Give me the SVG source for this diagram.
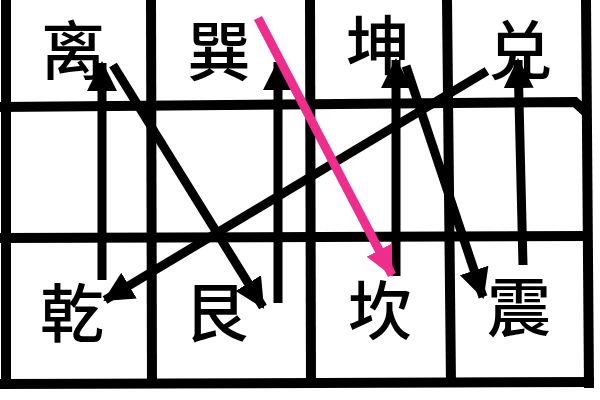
<svg xmlns="http://www.w3.org/2000/svg" width="600" height="400" viewBox="0 0 600 400">
<style>
.grid{stroke:#000;stroke-width:10;fill:none;stroke-linecap:butt}
.conn{stroke:#000;stroke-width:9;fill:none}
.pink{stroke:#EE2D8C;stroke-width:9;fill:none}
.lbl{font-family:"Noto Sans CJK SC","Noto Sans CJK JP",sans-serif;font-size:64px;font-weight:500;fill:#000;text-anchor:middle;dominant-baseline:central}
</style>
<defs>
<marker id="ah" markerUnits="userSpaceOnUse" markerWidth="32" markerHeight="32" viewBox="0 0 32 32" refX="28" refY="16" orient="auto">
<path d="M0,1 L30,16 L0,31 Z" fill="#000"/>
</marker>
<marker id="ahp" markerUnits="userSpaceOnUse" markerWidth="32" markerHeight="32" viewBox="0 0 32 32" refX="28" refY="16" orient="auto">
<path d="M0,2 L30,16 L0,30 Z" fill="#EE2D8C"/>
</marker>
</defs>
<rect width="600" height="400" fill="#fff"/>
<g id="grid">
<line class="grid" x1="6" y1="0" x2="6" y2="388"/>
<line class="grid" x1="151" y1="0" x2="152" y2="388"/>
<line class="grid" x1="310" y1="0" x2="311" y2="384"/>
<line class="grid" x1="447" y1="0" x2="451" y2="384"/>
<line class="grid" x1="586" y1="0" x2="589" y2="388"/>
<polyline class="grid" points="0,107 575,102 586,112"/>
<line class="grid" x1="0" y1="238" x2="590" y2="236"/>
<line class="grid" x1="0" y1="384" x2="594" y2="382"/>
</g>
<g id="li"><text class="lbl" x="73" y="46">离</text></g>
<g id="xun"><text class="lbl" x="219" y="47">巽</text></g>
<g id="kun"><text class="lbl" x="378" y="41">坤</text></g>
<g id="dui"><text class="lbl" x="520" y="46">兑</text></g>
<g id="qian"><text class="lbl" x="72" y="309">乾</text></g>
<g id="gen"><text class="lbl" x="216" y="308">艮</text></g>
<g id="kan"><text class="lbl" x="380" y="306">坎</text></g>
<g id="zhen"><text class="lbl" x="519" y="303">震</text></g>
<g id="connectors">
<line class="conn" x1="102" y1="280" x2="102" y2="63" marker-end="url(#ah)"/>
<line class="conn" x1="113" y1="65" x2="263" y2="307" marker-end="url(#ah)"/>
<line class="conn" x1="278" y1="303" x2="278" y2="62" marker-end="url(#ah)"/>
<line class="conn" x1="487" y1="71" x2="105" y2="300" marker-end="url(#ah)"/>
<line class="conn" x1="396" y1="276" x2="396" y2="60" marker-end="url(#ah)"/>
<line class="conn" x1="406" y1="66" x2="483" y2="297" marker-end="url(#ah)"/>
<line class="conn" x1="523" y1="265" x2="518" y2="60" marker-end="url(#ah)"/>
<line class="pink" x1="258" y1="18" x2="392" y2="275" marker-end="url(#ahp)"/>
</g>
</svg>
